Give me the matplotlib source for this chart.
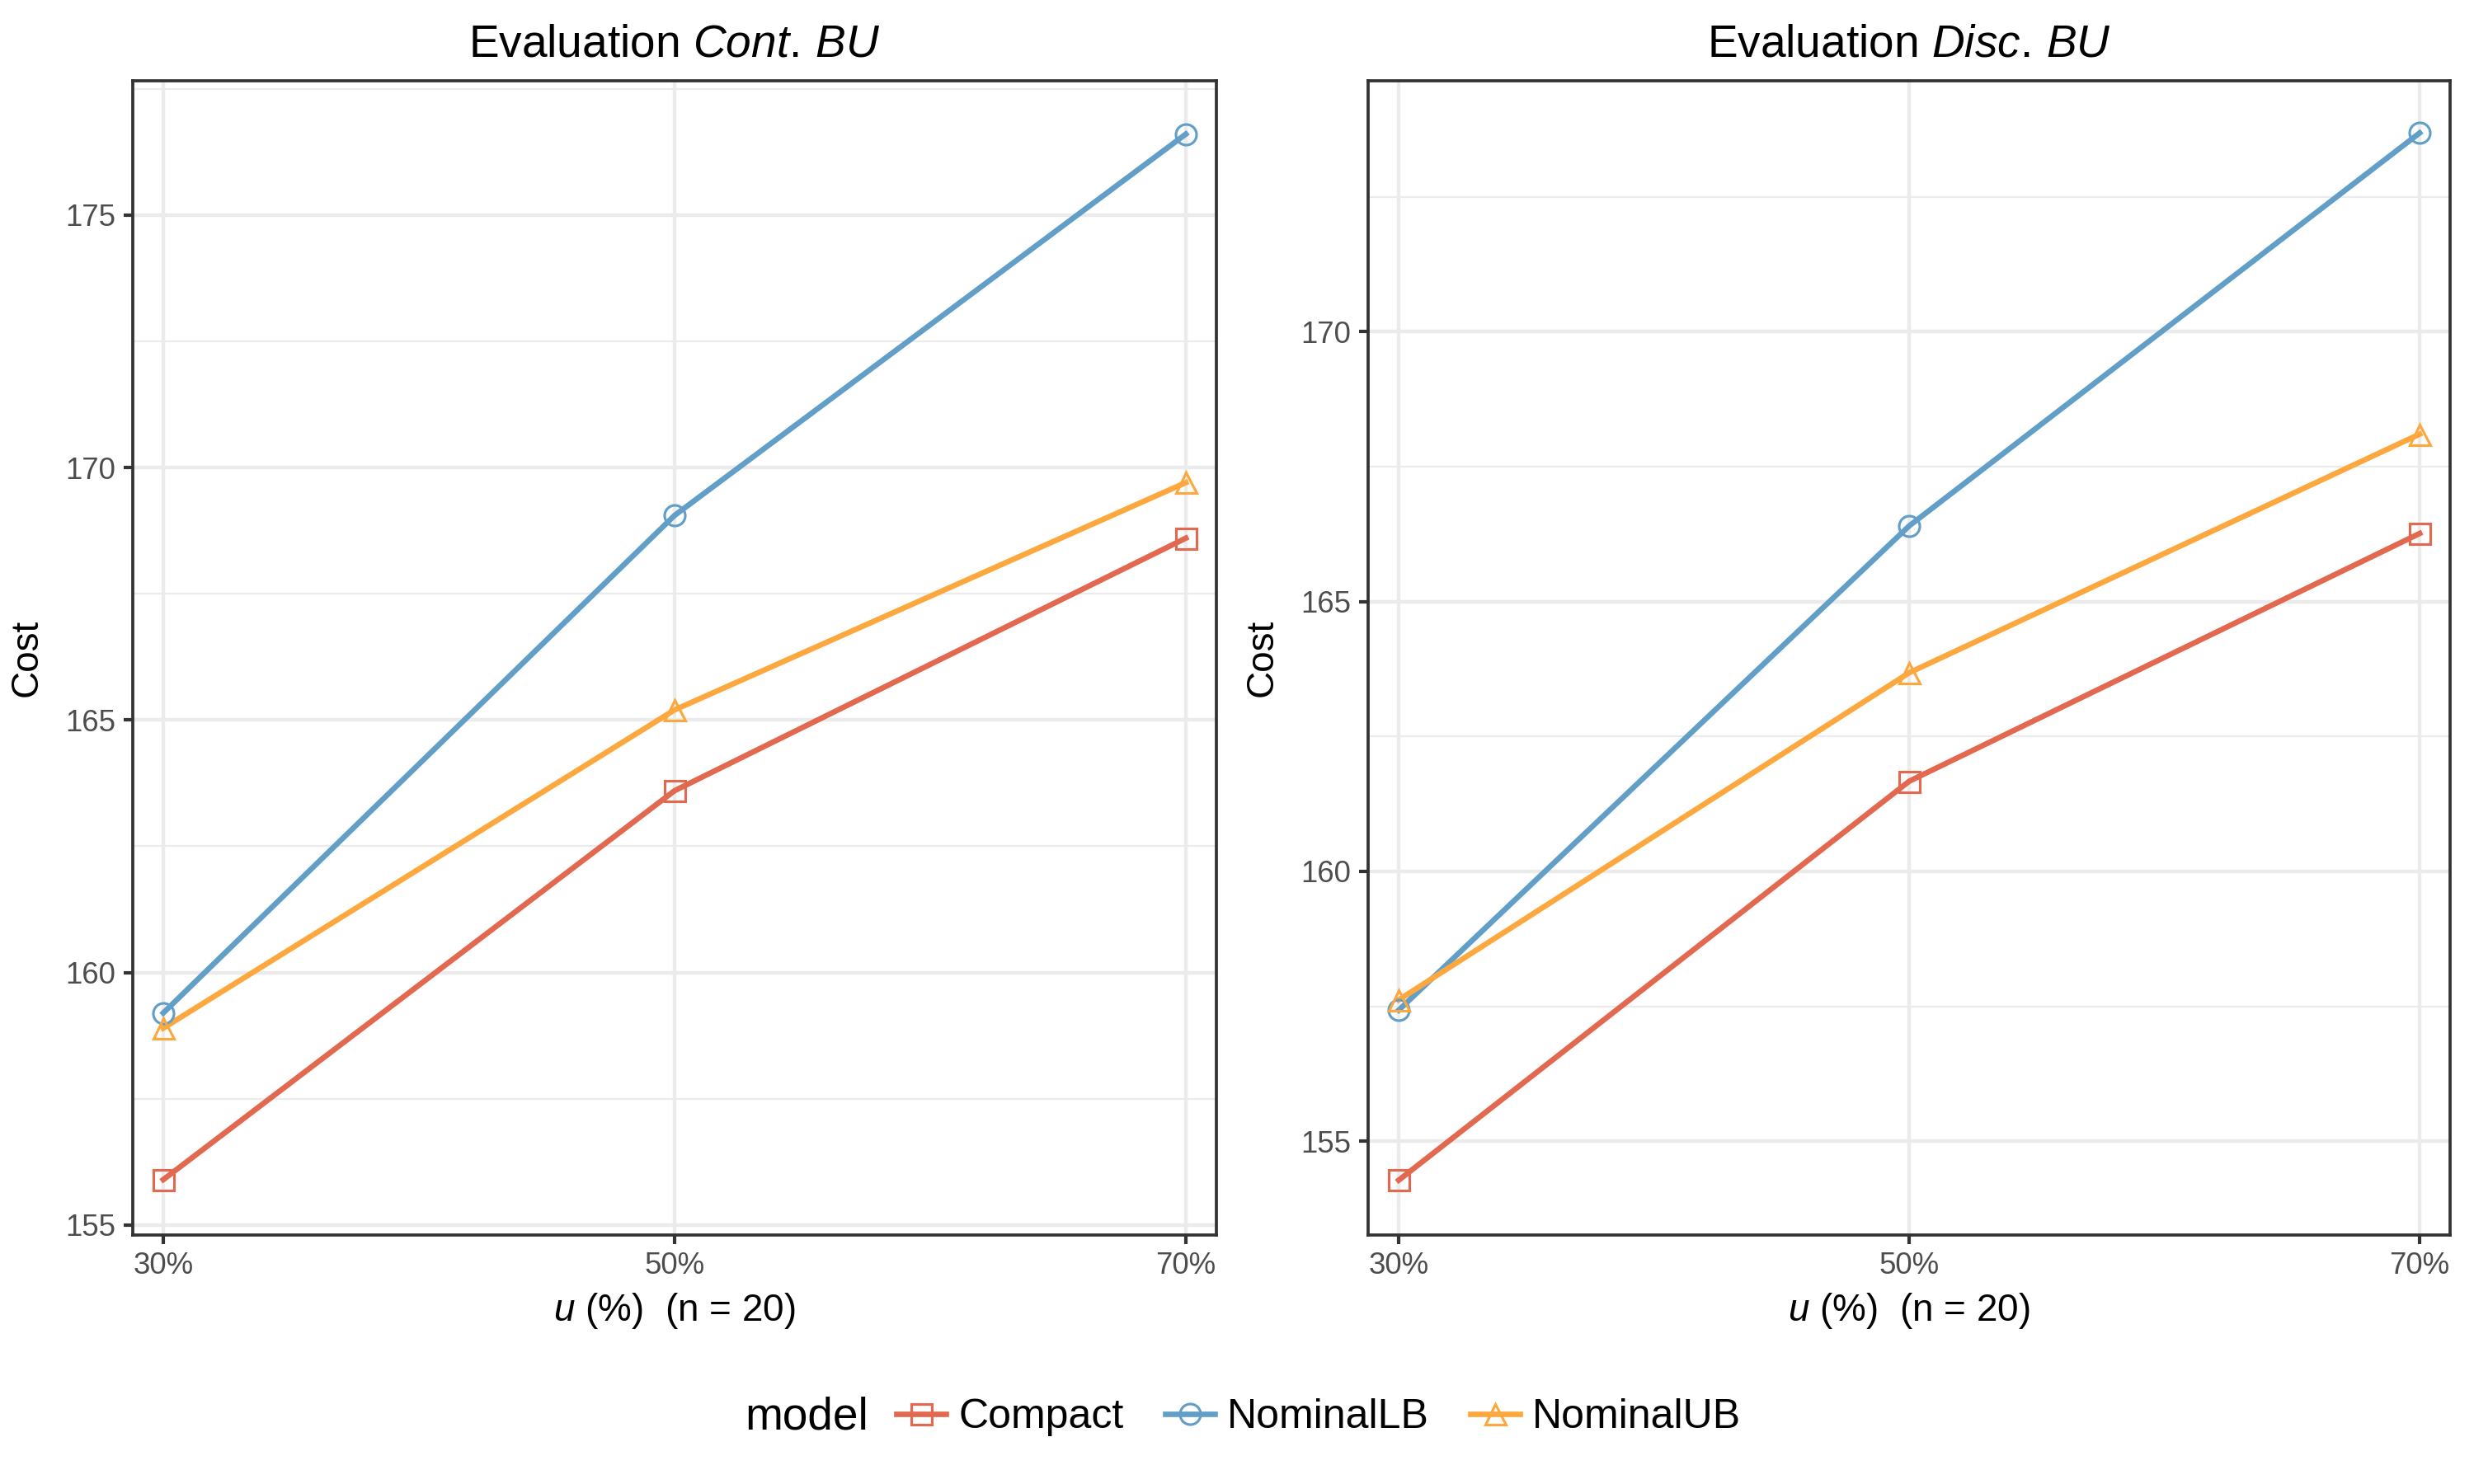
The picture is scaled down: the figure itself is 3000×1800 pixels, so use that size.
import numpy as np
import matplotlib.pyplot as plt
from matplotlib.lines import Line2D
from matplotlib.ticker import MultipleLocator

plt.rcParams['font.family'] = ['Liberation Sans', 'DejaVu Sans']
plt.rcParams['mathtext.fontset'] = 'custom'
plt.rcParams['mathtext.rm'] = 'Liberation Sans'
plt.rcParams['mathtext.it'] = 'Liberation Sans:italic'

# data
u_labels = ['30%', '50%', '70%']
models = ['Compact', 'NominalLB', 'NominalUB']

cont_compact = [155.9, 163.6, 168.6]
cont_lb = [159.2, 169.05, 176.6]
cont_ub = [158.9, 165.2, 169.7]

disc_compact = [154.28, 161.67, 166.26]
disc_lb = [157.43, 166.4, 173.68]
disc_ub = [157.62, 163.68, 168.1]

colors = {'Compact': '#E2684F', 'NominalLB': '#619FC9', 'NominalUB': '#FCA83E'}
markers = {'Compact': 's', 'NominalLB': 'o', 'NominalUB': '^'}

panels = [
    (r'Evaluation $Cont.\,BU$', [cont_compact, cont_lb, cont_ub], (154.81, 177.66), [0.0536, 0.168, 0.4381, 0.7777]),
    (r'Evaluation $Disc.\,BU$', [disc_compact, disc_lb, disc_ub], (153.27, 174.65), [0.5530, 0.168, 0.4374, 0.7777]),
]

fig = plt.figure(figsize=(10, 6), dpi=300)
x = np.arange(len(u_labels))

for title, series, ylim, rect in panels:
    ax = fig.add_axes(rect)
    ax.set_facecolor('white')
    for name, vals in zip(models, series):
        ax.plot(x, vals, color=colors[name], lw=1.6, zorder=3)
        ax.plot(x, vals, ls='none', marker=markers[name], ms=6, mfc='none',
                mec=colors[name], mew=0.75, zorder=4)
    ax.set_xlim(-0.06, 2.06)
    ax.set_ylim(*ylim)
    ax.set_xticks(x)
    ax.set_xticklabels(u_labels)
    ax.yaxis.set_major_locator(MultipleLocator(5))
    ax.yaxis.set_minor_locator(MultipleLocator(2.5))
    ax.grid(which='major', color='#EBEBEB', lw=1.07, zorder=0)
    ax.grid(which='minor', axis='y', color='#EBEBEB', lw=0.55, zorder=0)
    ax.tick_params(which='minor', length=0)
    ax.tick_params(which='major', length=2.75, width=1.0, color='#333333',
                   labelcolor='#4D4D4D', labelsize=8.8, pad=2.2)
    for s in ax.spines.values():
        s.set_color('#333333')
        s.set_linewidth(0.9)
    ax.set_axisbelow(True)
    ax.set_title(title, fontsize=13.2, pad=7)
    ax.set_xlabel(r'$u$ (%)  (n = 20)', fontsize=11, labelpad=3)
    ax.set_ylabel('Cost', fontsize=11, labelpad=6)

handles = [Line2D([0], [0], color=colors[m], lw=1.6, marker=markers[m], ms=6,
                  mfc='none', mec=colors[m], mew=0.75) for m in models]
fig.legend(handles, models, loc='center', bbox_to_anchor=(0.533, 0.045), ncol=3,
           frameon=False, fontsize=12, handlelength=1.2, handletextpad=0.3,
           columnspacing=1.0)
fig.text(0.301, 0.045, 'model', fontsize=13.2, ha='left', va='center')

fig.savefig('out.png', dpi=300, facecolor='white')
